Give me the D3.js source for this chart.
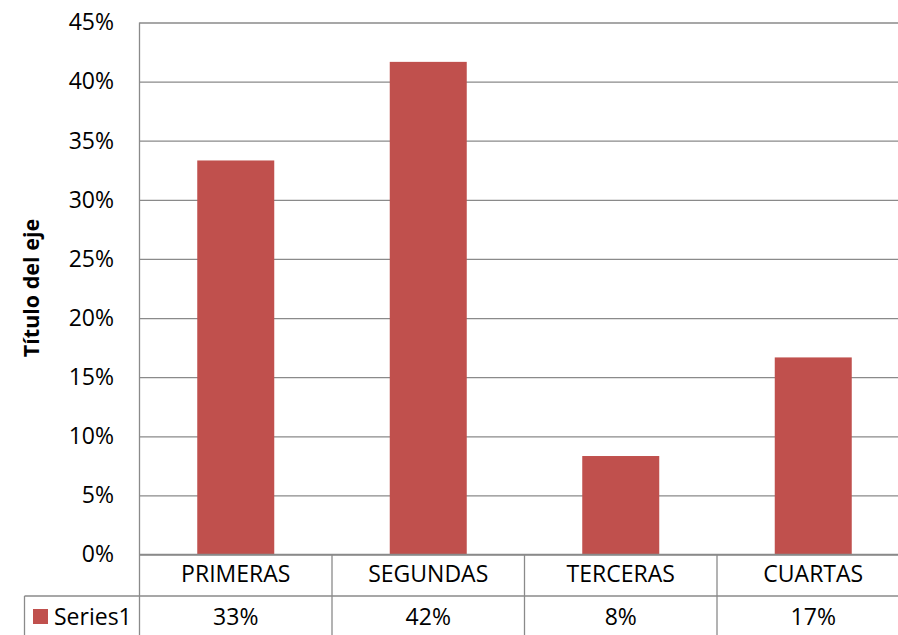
<!DOCTYPE html>
<html>
<head>
<meta charset="utf-8">
<script src="https://cdn.jsdelivr.net/npm/d3@7/dist/d3.min.js"></script>
<style>
  html, body { margin: 0; padding: 0; background: #fff; }
  svg { display: block; }
</style>
</head>
<body>
<svg id="chart" width="898" height="635"></svg>
<script>
const categories = ["PRIMERAS", "SEGUNDAS", "TERCERAS", "CUARTAS"];
const seriesName = "Series1";
const values = [0.3333, 0.4167, 0.0833, 0.1667];
const yTicks = [0, 0.05, 0.10, 0.15, 0.20, 0.25, 0.30, 0.35, 0.40, 0.45];
const axisTitle = "Título del eje";

(function () {
const svg = d3.select("#chart");
const pLeft = 139.5, pTop = 22.5, pBottom = 554.5, pRight = 909.5;
const rowMid = 596, tableBottom = 637.5, legendLeft = 24.5;
const barColor = "#C0504D";
const lineColor = "#8a8a8a";
const font = "'Open Sans', sans-serif";

const y = d3.scaleLinear().domain([0, 0.45]).range([pBottom, pTop]);
const xCat = d3.scaleBand().domain(categories).range([pLeft, pRight]).padding(0);
const xBar = d3.scaleBand().domain(categories).range([pLeft, pRight]).paddingInner(0.6).paddingOuter(0.3);
const pct = d3.format(".0%");

// gridlines + tick labels
const yAxis = d3.axisLeft(y).tickValues(yTicks).tickFormat(pct)
  .tickSize(-(pRight - pLeft)).tickPadding(25.5);
const gy = svg.append("g").attr("transform", `translate(${pLeft},0)`).call(yAxis);
gy.select(".domain").remove();
gy.selectAll(".tick line").attr("stroke", lineColor).attr("stroke-width", 1.3);
gy.selectAll(".tick text").attr("fill", "#000").style("font-family", font).style("font-size", "23px");

// bars
svg.append("g").selectAll("rect").data(categories).join("rect")
  .attr("x", d => xBar(d))
  .attr("width", xBar.bandwidth())
  .attr("y", (d, i) => y(values[i]))
  .attr("height", (d, i) => y(0) - y(values[i]))
  .attr("fill", barColor);

// table lines
const tl = svg.append("g").attr("stroke", lineColor).attr("stroke-width", 1.3).attr("fill", "none");
tl.append("line").attr("x1", pLeft).attr("x2", pRight).attr("y1", y(0)).attr("y2", y(0));
tl.append("line").attr("x1", pLeft).attr("x2", pLeft).attr("y1", pTop).attr("y2", tableBottom);
tl.append("line").attr("x1", legendLeft).attr("x2", pRight).attr("y1", rowMid).attr("y2", rowMid);
tl.append("line").attr("x1", legendLeft).attr("x2", legendLeft).attr("y1", rowMid).attr("y2", tableBottom);
tl.selectAll("line.sep").data(categories).join("line").attr("class", "sep")
  .attr("x1", d => xCat(d) + xCat.bandwidth()).attr("x2", d => xCat(d) + xCat.bandwidth())
  .attr("y1", y(0)).attr("y2", tableBottom);

// category labels
svg.append("g").selectAll("text").data(categories).join("text")
  .attr("x", d => xCat(d) + xCat.bandwidth() / 2)
  .attr("y", 582)
  .attr("text-anchor", "middle")
  .style("font-family", font).style("font-size", "23px")
  .text(d => d);

// value row
svg.append("g").selectAll("text").data(categories).join("text")
  .attr("x", d => xCat(d) + xCat.bandwidth() / 2)
  .attr("y", 625)
  .attr("text-anchor", "middle")
  .style("font-family", font).style("font-size", "23px")
  .text((d, i) => pct(values[i]));

// legend key
svg.append("rect").attr("x", 33).attr("y", 609).attr("width", 15).attr("height", 15).attr("fill", barColor);
svg.append("text").attr("x", 54).attr("y", 625)
  .style("font-family", font).style("font-size", "23px").text(seriesName);

// axis title
svg.append("text")
  .attr("transform", `translate(38.5,288) rotate(-90)`)
  .attr("text-anchor", "middle")
  .style("font-family", font).style("font-size", "21.5px").style("font-weight", "bold")
  .text(axisTitle);
})();
</script>
</body>
</html>
